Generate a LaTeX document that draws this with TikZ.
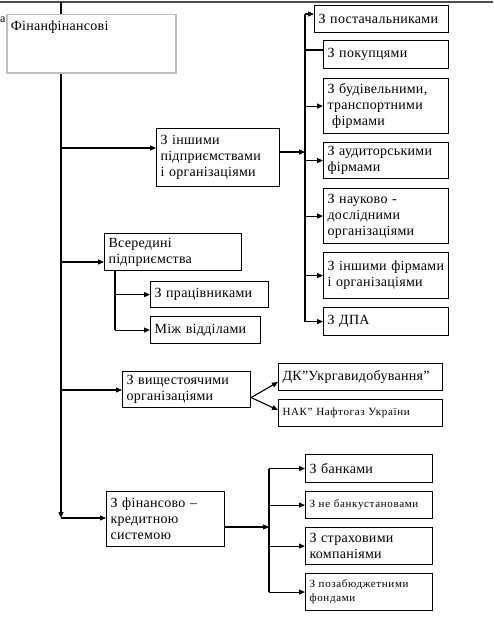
\documentclass[tikz,border=0pt]{standalone}
\usepackage{fontspec}
\setmainfont{Liberation Serif}[LetterSpace=2]
\usetikzlibrary{arrows.meta}

\begin{document}
\begin{tikzpicture}[x=1pt,y=-1pt,
  box/.style={draw, fill=white, line width=1.1pt, anchor=north west, align=left,
    inner xsep=4pt, inner ysep=3pt, font=\fontsize{14}{16}\selectfont},
  small/.style={font=\fontsize{11}{14}\selectfont\addfontfeature{LetterSpace=6}},
  ln/.style={line width=1.1pt},
  arr/.style={line width=1.1pt, -{Triangle[length=6pt,width=5pt]}}]
  \useasboundingbox (0,0) rectangle (493,618);

  % top edge and trunk
  \draw[line width=2.5pt, gray!60!black] (0,2) -- (493,2);
  \node[font=\fontsize{12}{14}\selectfont, inner sep=0pt, anchor=west] (cut) at (0,20) {а};
  \coordinate (ttop) at (61,2);
  \coordinate (tbot) at (61,518);
  \draw[arr] (ttop) -- (tbot);
  \node[box, draw=gray!50, line width=1.5pt, text width=161pt, text height=13pt, text depth=39pt]
    (main) at (6,14) {Фінанфінансові};

  % first level
  \node[box, text width=115pt, minimum height=58pt] (inshi) at (156,128)
    {З іншими\\підприємствами\\і організаціями};
  \node[box, text width=129pt, minimum height=37pt] (ser) at (104,233)
    {Всередині\\підприємства};
  \node[box, text width=120pt, minimum height=36pt] (vysh) at (122,371)
    {З вищестоячими\\організаціями};
  \node[box, text width=110pt, minimum height=55pt] (fin) at (106,491)
    {З фінансово –\\кредитною\\системою};

  \coordinate (j1) at (61,148);
  \coordinate (j2) at (61,262);
  \coordinate (j3) at (61,390);
  \draw[arr] (j1) -- (j1 -| inshi.west);
  \draw[arr] (j2) -- (j2 -| ser.west);
  \draw[arr] (j3) -- (j3 -| vysh.west);
  \draw[arr] (tbot) -- (tbot -| fin.west);

  % other firms
  \node[box, text width=126pt, minimum height=27pt] (post) at (314,5) {З постачальниками};
  \node[box, text width=117pt, minimum height=28pt] (pokup) at (323,40) {З покупцями};
  \node[box, text width=117pt, minimum height=55pt] (budiv) at (323,78)
    {З будівельними,\\транспортними\\ \ фірмами};
  \node[box, text width=117pt, minimum height=36pt] (audyt) at (323,142)
    {З аудиторськими\\фірмами};
  \node[box, text width=117pt, minimum height=55pt] (nauk) at (323,188)
    {З науково -\\дослідними\\організаціями};
  \node[box, text width=117pt, minimum height=46pt] (inshf) at (323,252)
    {З іншими фірмами\\і організаціями};
  \node[box, text width=117pt, minimum height=28pt] (dpa) at (323,307) {З ДПА};

  \coordinate (r0) at (305,14);
  \coordinate (rin) at (305,152);
  \coordinate (rp) at (305,50);
  \draw[ln] (r0) -- (r0 |- dpa.west);
  \draw[arr] (inshi.east |- rin) -- (rin);
  \draw[arr] (r0) -- (r0 -| post.west);
  \draw[ln] (rp) -- (rp -| pokup.west);
  \foreach \n in {budiv,audyt,nauk,inshf,dpa}
    \draw[arr] (r0 |- \n.west) -- (\n.west);

  % inside
  \node[box, text width=110pt, minimum height=26pt] (prac) at (150,281) {З працівниками};
  \node[box, text width=102pt, minimum height=27pt] (vidd) at (150,316) {Між відділами};
  \coordinate (sb) at (115,270);
  \draw[ln] (sb) -- (sb |- vidd.west);
  \draw[arr] (sb |- prac.west) -- (prac.west);
  \draw[arr] (sb |- vidd.west) -- (vidd.west);

  % higher organisations
  \node[box, text width=156pt, minimum height=27pt] (dk) at (278,363) {ДК\char34Укргавидобування\char34};
  \node[box, small, text width=156pt, minimum height=27pt] (nak) at (278,399) {НАК\char34{} Нафтогаз України};
  \coordinate (fan) at ([yshift=-8pt]vysh.east);
  \draw[arr] (fan) -- ([yshift=-5pt]dk.west);
  \draw[arr] (fan) -- ([yshift=3pt]nak.west);

  % finance and credit
  \node[box, text width=119pt, minimum height=28pt] (bank) at (305,454) {З банками};
  \node[box, small, text width=119pt, minimum height=27pt] (nebank) at (305,491) {З не банкустановами};
  \node[box, text width=119pt, minimum height=37pt] (strakh) at (305,527)
    {З страховими\\компаніями};
  \node[box, small, text width=119pt, minimum height=37pt] (pozab) at (305,573)
    {З позабюджетними\\фондами};
  \coordinate (fj) at (269,527);
  \draw[arr] (fin.east |- fj) -- (fj);
  \draw[ln] (fj |- bank.west) -- (fj |- pozab.west);
  \foreach \n in {bank,nebank,strakh,pozab}
    \draw[arr] (fj |- \n.west) -- (\n.west);
\end{tikzpicture}
\end{document}
